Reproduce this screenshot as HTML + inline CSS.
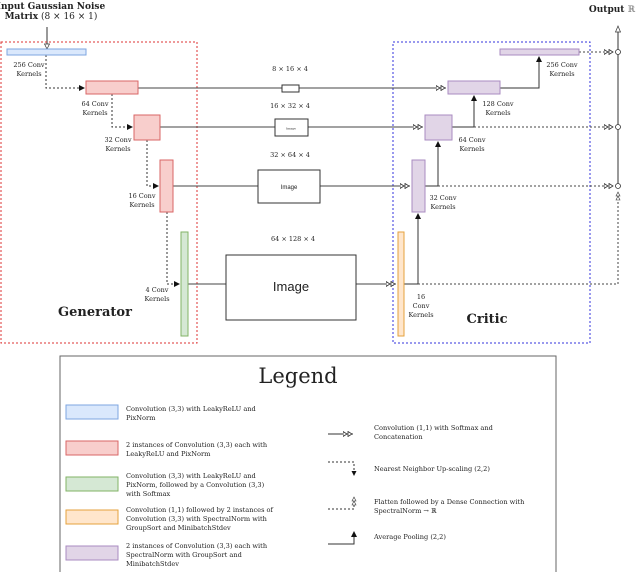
<!DOCTYPE html>
<html><head><meta charset="utf-8"><style>
body{margin:0;background:#fff}
svg{display:block}
text{font-family:"DejaVu Serif","Liberation Serif",serif;fill:#222}
</style></head><body>
<svg width="640" height="572" viewBox="0 0 640 572" xmlns="http://www.w3.org/2000/svg">
<defs>
<marker id="ah" markerWidth="6" markerHeight="6" refX="5" refY="3" orient="auto"><path d="M0,0 L6,3 L0,6 Z" fill="#111"/></marker>
<marker id="dt" markerWidth="10" markerHeight="6" refX="10" refY="3" orient="auto"><path d="M0,0.5 L4,3 L0,5.5 Z M5,0.5 L9,3 L5,5.5 Z" fill="#fff" stroke="#333" stroke-width="0.8"/></marker>
</defs>
<text x="51" y="9" font-size="9" font-weight="bold" text-anchor="middle">Input Gaussian Noise</text>
<text x="51" y="19" font-size="9" text-anchor="middle"><tspan font-weight="bold">Matrix</tspan> (8 × 16 × 1)</text>
<text x="612" y="12" font-size="9" font-weight="bold" text-anchor="middle">Output <tspan font-weight="normal" fill="#777">ℝ</tspan></text>
<line x1="47" y1="27" x2="47" y2="48" stroke="#333" stroke-width="1"/>
<path d="M44.5,44 L47,49 L49.5,44 Z" fill="#fff" stroke="#333" stroke-width="0.7"/>
<rect x="1" y="42" width="196" height="301" fill="none" stroke="#d33" stroke-dasharray="2,2" stroke-width="1"/>
<rect x="393" y="42" width="197" height="301" fill="none" stroke="#33d" stroke-dasharray="2,2" stroke-width="1"/>
<text x="95" y="316" font-size="13" font-weight="bold" text-anchor="middle">Generator</text>
<text x="487" y="323" font-size="13" font-weight="bold" text-anchor="middle">Critic</text>
<g fill="none" stroke="#333" stroke-dasharray="2,2" stroke-width="1">
<path d="M46,55 V88 H84" marker-end="url(#ah)"/>
<path d="M112,94 V127 H132" marker-end="url(#ah)"/>
<path d="M147,140 V186 H158" marker-end="url(#ah)"/>
<path d="M167,212 V284 H179" marker-end="url(#ah)"/>
</g>
<g stroke="#444" stroke-width="1" fill="none">
<path d="M138,88 H446" marker-end="url(#dt)"/>
<path d="M160,127 H423" marker-end="url(#dt)"/>
<path d="M173,186 H410" marker-end="url(#dt)"/>
<path d="M188,284 H396" marker-end="url(#dt)"/>
</g>
<g stroke="#333" stroke-width="1" fill="none">
<path d="M404,284 H418 V214" marker-end="url(#ah)"/>
<path d="M425,186 H438 V142" marker-end="url(#ah)"/>
<path d="M452,127 H474 V96" marker-end="url(#ah)"/>
<path d="M500,88 H539 V57" marker-end="url(#ah)"/>
</g>
<g stroke="#444" stroke-width="1" fill="none" stroke-dasharray="2,2">
<path d="M579,52 H614" marker-end="url(#dt)"/>
<path d="M474,127 H614" marker-end="url(#dt)"/>
<path d="M438,186 H614" marker-end="url(#dt)"/>
<path d="M418,284 H618 V194"/>
</g>
<line x1="618" y1="30" x2="618" y2="186" stroke="#333" stroke-width="1"/>
<path d="M615.5,32 L618,26 L620.5,32 Z" fill="#fff" stroke="#333" stroke-width="0.7"/>
<path d="M616,196 L618,192 L620,196 Z M616,200 L618,196 L620,200 Z" fill="#fff" stroke="#333" stroke-width="0.6"/>
<g fill="#fff" stroke="#333" stroke-width="0.8">
<circle cx="618" cy="52" r="2.5"/><circle cx="618" cy="127" r="2.5"/><circle cx="618" cy="186" r="2.5"/>
</g>
<rect x="7" y="49" width="79" height="6" fill="#dae8fc" stroke="#7ea6e0"/>
<rect x="86" y="81" width="52" height="13" fill="#f8cecc" stroke="#d96666"/>
<rect x="134" y="115" width="26" height="25" fill="#f8cecc" stroke="#d96666"/>
<rect x="160" y="160" width="13" height="52" fill="#f8cecc" stroke="#d96666"/>
<rect x="181" y="232" width="7" height="104" fill="#d5e8d4" stroke="#82b366"/>
<rect x="398" y="232" width="6" height="104" fill="#ffe6cc" stroke="#e6a23c"/>
<rect x="412" y="160" width="13" height="52" fill="#e1d5e7" stroke="#a98bc0"/>
<rect x="425" y="115" width="27" height="25" fill="#e1d5e7" stroke="#a98bc0"/>
<rect x="448" y="81" width="52" height="13" fill="#e1d5e7" stroke="#a98bc0"/>
<rect x="500" y="49" width="79" height="6" fill="#e1d5e7" stroke="#a98bc0"/>
<rect x="282" y="85" width="17" height="7" fill="#fff" stroke="#333"/>
<rect x="275" y="119" width="33" height="17" fill="#fff" stroke="#333"/>
<text x="291" y="129.5" font-size="3" text-anchor="middle" font-family="Liberation Sans">Image</text>
<rect x="258" y="170" width="62" height="33" fill="#fff" stroke="#333"/>
<text x="289" y="189" font-size="6" text-anchor="middle" style="font-family:'Liberation Sans',sans-serif">Image</text>
<rect x="226" y="255" width="130" height="65" fill="#fff" stroke="#333"/>
<text x="291" y="291" font-size="13" text-anchor="middle" style="font-family:'Liberation Sans',sans-serif">Image</text>
<g font-size="6.5" text-anchor="middle">
<text x="290" y="71">8 × 16 × 4</text>
<text x="290" y="108">16 × 32 × 4</text>
<text x="290" y="157">32 × 64 × 4</text>
<text x="293" y="241">64 × 128 × 4</text>
</g>
<g font-size="6.5" text-anchor="middle">
<text x="29" y="67">256 Conv</text><text x="29" y="76">Kernels</text>
<text x="95" y="106">64 Conv</text><text x="95" y="115">Kernels</text>
<text x="118" y="142">32 Conv</text><text x="118" y="151">Kernels</text>
<text x="142" y="198">16 Conv</text><text x="142" y="207">Kernels</text>
<text x="157" y="292">4 Conv</text><text x="157" y="301">Kernels</text>
<text x="562" y="67">256 Conv</text><text x="562" y="76">Kernels</text>
<text x="498" y="106">128 Conv</text><text x="498" y="115">Kernels</text>
<text x="472" y="142">64 Conv</text><text x="472" y="151">Kernels</text>
<text x="443" y="200">32 Conv</text><text x="443" y="209">Kernels</text>
<text x="421" y="299">16</text><text x="421" y="308">Conv</text><text x="421" y="317">Kernels</text>
</g>
<rect x="60" y="356" width="496" height="220" fill="#fff" stroke="#666" stroke-width="1"/>
<text x="298" y="383" font-size="21" text-anchor="middle">Legend</text>
<rect x="66" y="405" width="52" height="14" fill="#dae8fc" stroke="#7ea6e0"/>
<rect x="66" y="441" width="52" height="14" fill="#f8cecc" stroke="#d96666"/>
<rect x="66" y="477" width="52" height="14" fill="#d5e8d4" stroke="#82b366"/>
<rect x="66" y="510" width="52" height="14" fill="#ffe6cc" stroke="#e6a23c"/>
<rect x="66" y="546" width="52" height="14" fill="#e1d5e7" stroke="#a98bc0"/>
<g font-size="6.6">
<text x="126" y="411">Convolution (3,3) with LeakyReLU and</text><text x="126" y="420">PixNorm</text>
<text x="126" y="447">2 instances of Convolution (3,3) each with</text><text x="126" y="456">LeakyReLU and PixNorm</text>
<text x="126" y="478">Convolution (3,3) with LeakyReLU and</text><text x="126" y="487">PixNorm, followed by a Convolution (3,3)</text><text x="126" y="496">with Softmax</text>
<text x="126" y="512">Convolution (1,1) followed by 2 instances of</text><text x="126" y="521">Convolution (3,3) with SpectralNorm with</text><text x="126" y="530">GroupSort and MinibatchStdev</text>
<text x="126" y="548">2 instances of Convolution (3,3) each with</text><text x="126" y="557">SpectralNorm with GroupSort and</text><text x="126" y="566">MinibatchStdev</text>
<text x="374" y="430">Convolution (1,1) with Softmax and</text><text x="374" y="439">Concatenation</text>
<text x="374" y="471">Nearest Neighbor Up-scaling (2,2)</text>
<text x="374" y="504">Flatten followed by a Dense Connection with</text><text x="374" y="513">SpectralNorm → ℝ</text>
<text x="374" y="539">Average Pooling (2,2)</text>
</g>
<path d="M328,434 H353" stroke="#333" fill="none" marker-end="url(#dt)"/>
<path d="M328,462 H354 V472" stroke="#333" fill="none" stroke-dasharray="2,2"/>
<path d="M351.5,471 L354,476 L356.5,471 Z" fill="#111"/>
<path d="M328,509 H354 V500" stroke="#333" fill="none" stroke-dasharray="2,2"/>
<path d="M352,501 L354,497 L356,501 Z M352,505 L354,501 L356,505 Z" fill="#fff" stroke="#333" stroke-width="0.6"/>
<path d="M328,544 H354 V532" stroke="#333" fill="none" marker-end="url(#ah)"/>
</svg>
</body></html>
